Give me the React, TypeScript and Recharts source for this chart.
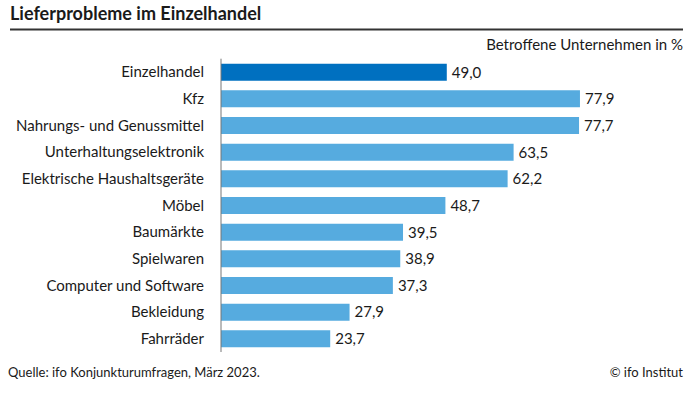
import { Bar, BarChart, Cell, LabelList, XAxis, YAxis } from "recharts";

const categories = [
  "Einzelhandel",
  "Kfz",
  "Nahrungs- und Genussmittel",
  "Unterhaltungselektronik",
  "Elektrische Haushaltsgeräte",
  "Möbel",
  "Baumärkte",
  "Spielwaren",
  "Computer und Software",
  "Bekleidung",
  "Fahrräder",
];
const values = [49.0, 77.9, 77.7, 63.5, 62.2, 48.7, 39.5, 38.9, 37.3, 27.9, 23.7];

const FONT = "Lato, 'Open Sans', sans-serif";
const DARK = "#0070c0";
const LIGHT = "#56abdf";

const data = categories.map((name, i) => ({ name, value: values[i] }));

const fmt = (v: unknown) => Number(v).toFixed(1).replace(".", ",");

export default function App() {
  return (
    <div style={{ position: "absolute", left: 0, top: 0, width: 694, height: 400, background: "#fff", fontFamily: FONT }}>
      <svg width={694} height={400} style={{ position: "absolute", left: 0, top: 0 }}>
        <text x={10} y={20} fontSize={18} fontWeight={700} fill="#1a1a1a" fontFamily={FONT}>
          Lieferprobleme im Einzelhandel
        </text>
        <line x1={10} x2={683} y1={29.5} y2={29.5} stroke="#333" strokeWidth={2} />
        <text x={683} y={49.5} fontSize={15} fill="#1a1a1a" textAnchor="end" fontFamily={FONT}>
          Betroffene Unternehmen in %
        </text>
        <text x={8} y={377} fontSize={13} fill="#1a1a1a" fontFamily={FONT}>
          Quelle: ifo Konjunkturumfragen, März 2023.
        </text>
        <text x={683} y={377} fontSize={13} fill="#1a1a1a" textAnchor="end" fontFamily={FONT}>
          © ifo Institut
        </text>
      </svg>
      <div style={{ position: "absolute", left: 0, top: 0 }}>
        <BarChart
          width={694}
          height={400}
          data={data}
          layout="vertical"
          margin={{ top: 58.7, right: 12.2, bottom: 48, left: 0 }}
        >
          <XAxis type="number" domain={[0, 100]} hide />
          <YAxis
            type="category"
            dataKey="name"
            width={221}
            tickLine={false}
            tickMargin={11}
            axisLine={{ stroke: "#777", strokeWidth: 1 }}
            tick={{ fill: "#1a1a1a", fontSize: 15, fontFamily: FONT }}
            interval={0}
          />
          <Bar dataKey="value" barSize={17} isAnimationActive={false}>
            {data.map((d, i) => (
              <Cell key={d.name} fill={i === 0 ? DARK : LIGHT} />
            ))}
            <LabelList
              dataKey="value"
              position="right"
              offset={5}
              formatter={fmt}
              style={{ fill: "#1a1a1a", fontSize: 15, fontFamily: FONT }}
            />
          </Bar>
        </BarChart>
      </div>
    </div>
  );
}
